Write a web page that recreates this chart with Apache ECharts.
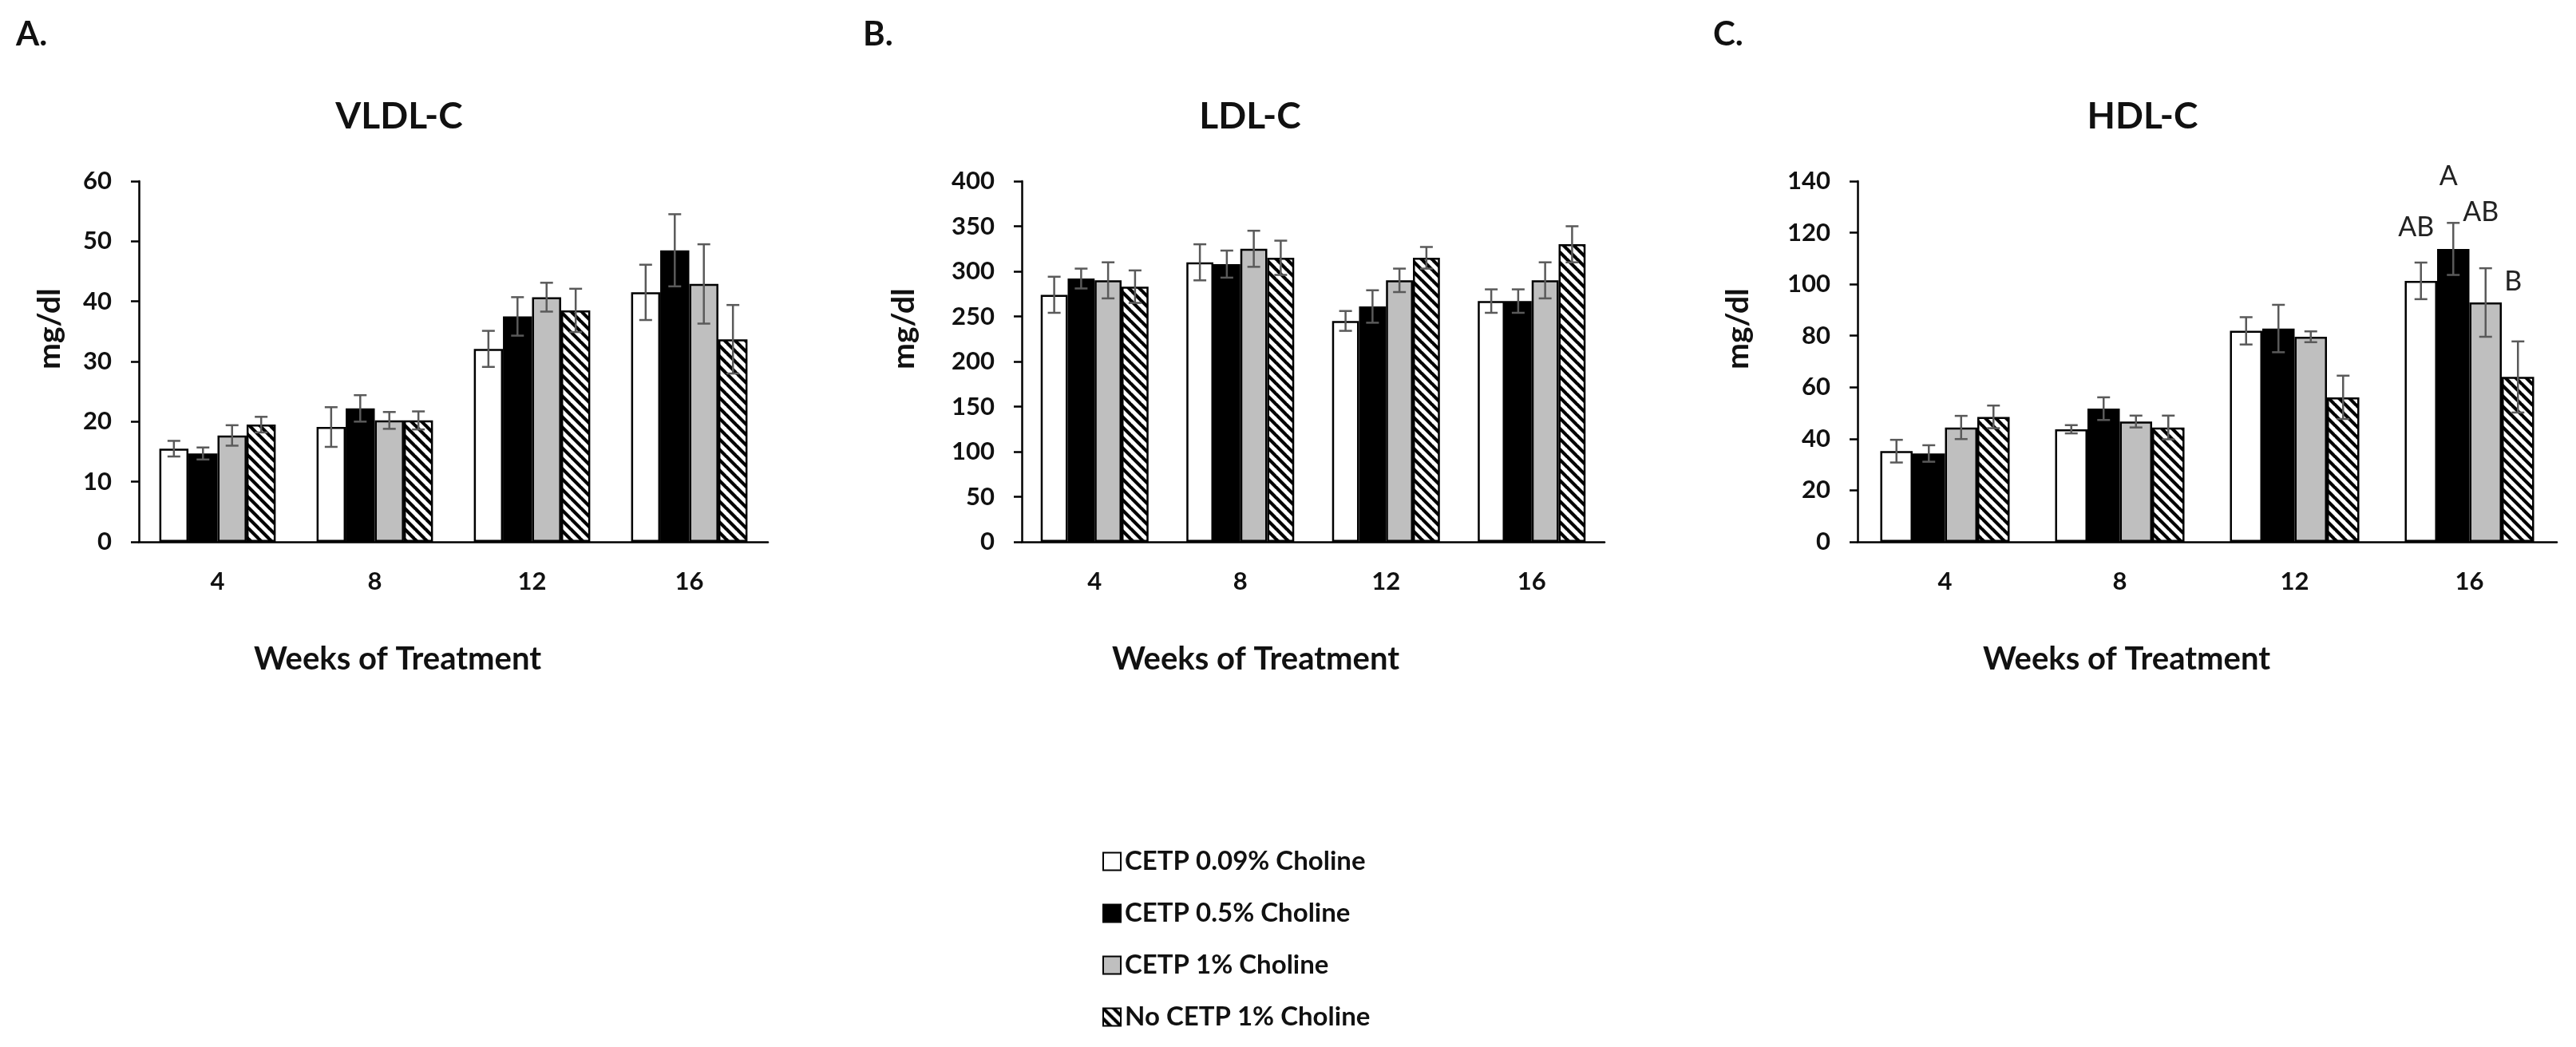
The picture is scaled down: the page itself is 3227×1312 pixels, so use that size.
<!DOCTYPE html>
<html><head><meta charset="utf-8">
<script src="https://cdn.jsdelivr.net/npm/echarts@6/dist/echarts.min.js"></script>
<style>html,body{margin:0;padding:0;background:#fff}#c{width:3227px;height:1312px}</style>
</head><body><div id="c"></div>
<script>
const weeks = ['4', '8', '12', '16'];
const seriesNames = ['CETP 0.09% Choline', 'CETP 0.5% Choline', 'CETP 1% Choline', 'No CETP 1% Choline'];

// VLDL-C (mg/dl)
const vldlWhite = [15.5, 19.1, 32.1, 41.5];
const vldlBlack = [14.7, 22.2, 37.5, 48.5];
const vldlGray  = [17.7, 20.2, 40.7, 42.9];
const vldlHatch = [19.5, 20.2, 38.5, 33.7];
const vldlWhiteErr = [1.3, 3.3, 3.0, 4.6];
const vldlBlackErr = [1.0, 2.2, 3.2, 6.0];
const vldlGrayErr  = [1.7, 1.4, 2.4, 6.6];
const vldlHatchErr = [1.3, 1.5, 3.6, 5.7];

// LDL-C (mg/dl)
const ldlWhite = [274, 310, 245, 267];
const ldlBlack = [292, 308, 261, 267];
const ldlGray  = [290, 325, 290, 290];
const ldlHatch = [283, 315, 315, 330];
const ldlWhiteErr = [20, 20, 11, 13];
const ldlBlackErr = [11, 15, 18, 13];
const ldlGrayErr  = [20, 20, 13, 20];
const ldlHatchErr = [18, 19, 12, 20];

// HDL-C (mg/dl)
const hdlWhite = [35.2, 43.7, 81.9, 101.3];
const hdlBlack = [34.3, 51.7, 82.8, 113.7];
const hdlGray  = [44.4, 46.7, 79.6, 92.9];
const hdlHatch = [48.5, 44.4, 56.1, 64.0];
const hdlWhiteErr = [4.4, 1.6, 5.3, 7.1];
const hdlBlackErr = [3.2, 4.4, 9.2, 10.1];
const hdlGrayErr  = [4.5, 2.3, 2.1, 13.3];
const hdlHatchErr = [4.4, 4.6, 8.4, 13.8];

// significance letters at week 16 (HDL-C), one per group, with the level they sit at
const hdlLetters = ['AB', 'A', 'AB', 'B'];
const hdlLetterLevel = [122, 142, 128, 101];

// y-axis ticks
const vldlTicks = {min: 0, max: 60, interval: 10};
const ldlTicks = {min: 0, max: 400, interval: 50};
const hdlTicks = {min: 0, max: 140, interval: 20};

const FONT = 'Lato';
const GAP = 0.26;

function hatchPattern() {
  const s = 13;
  const c = document.createElement('canvas');
  c.width = s; c.height = s;
  const g = c.getContext('2d');
  g.fillStyle = '#fff'; g.fillRect(0, 0, s, s);
  g.strokeStyle = '#000'; g.lineWidth = 4.2;
  g.beginPath();
  for (let k = -1; k <= 1; k++) { g.moveTo(-1, k * s - 1); g.lineTo(s + 1, s + k * s + 1); }
  g.stroke();
  return {image: c, repeat: 'repeat'};
}
const fills = ['#ffffff', '#000000', '#bfbfbf', hatchPattern()];

// layout of the three panels (pixels)
const panels = [
  {title: 'VLDL-C', titleX: 500, tag: 'A.', tagX: 20, left: 174, width: 788, ticks: vldlTicks, nameGap: 92, xNameX: 498,
    means: [vldlWhite, vldlBlack, vldlGray, vldlHatch], errs: [vldlWhiteErr, vldlBlackErr, vldlGrayErr, vldlHatchErr]},
  {title: 'LDL-C', titleX: 1566, tag: 'B.', tagX: 1081, left: 1280, width: 730, ticks: ldlTicks, nameGap: 128, xNameX: 1573,
    means: [ldlWhite, ldlBlack, ldlGray, ldlHatch], errs: [ldlWhiteErr, ldlBlackErr, ldlGrayErr, ldlHatchErr]},
  {title: 'HDL-C', titleX: 2684, tag: 'C.', tagX: 2146, left: 2327, width: 876, ticks: hdlTicks, nameGap: 130, xNameX: 2664,
    means: [hdlWhite, hdlBlack, hdlGray, hdlHatch], errs: [hdlWhiteErr, hdlBlackErr, hdlGrayErr, hdlHatchErr]}
];
const PLOT_TOP = 227, PLOT_H = 452, Y_NAME_CENTER = 412;

const grid = [], xAxis = [], yAxis = [], series = [], title = [];
panels.forEach((p, pi) => {
  grid.push({left: p.left, top: PLOT_TOP, width: p.width, height: PLOT_H});
  title.push({text: p.title, left: p.titleX, top: 123, textAlign: 'center', padding: 0,
    textStyle: {fontFamily: FONT, fontSize: 46, fontWeight: 'bold', color: '#111'}});
  title.push({text: p.tag, left: p.tagX, top: 22, padding: 0,
    textStyle: {fontFamily: FONT, fontSize: 42, fontWeight: 'bold', color: '#111'}});
  const xShift = (p.left + p.width / 2) - p.xNameX;
  const yShift = (PLOT_TOP + PLOT_H / 2) - Y_NAME_CENTER;
  xAxis.push({type: 'category', gridIndex: pi, data: weeks,
    axisLine: {lineStyle: {color: '#000', width: 2.5}}, axisTick: {show: false},
    axisLabel: {fontFamily: FONT, fontSize: 31, fontWeight: 'bold', color: '#111', margin: 34},
    name: 'Weeks of Treatment', nameLocation: 'middle', nameGap: 127,
    nameTextStyle: {fontFamily: FONT, fontSize: 40, fontWeight: 'bold', color: '#111', padding: [0, 2 * xShift, 0, 0]}});
  yAxis.push({type: 'value', gridIndex: pi, min: p.ticks.min, max: p.ticks.max, interval: p.ticks.interval,
    axisLine: {show: true, lineStyle: {color: '#000', width: 2.5}},
    axisTick: {show: true, length: 10, lineStyle: {color: '#000', width: 2.5}},
    splitLine: {show: false},
    axisLabel: {fontFamily: FONT, fontSize: 31, fontWeight: 'bold', color: '#111', margin: 34},
    name: 'mg/dl', nameLocation: 'middle', nameGap: p.nameGap,
    nameTextStyle: {fontFamily: FONT, fontSize: 39, fontWeight: 'bold', color: '#111', padding: [0, 0, 0, 2 * yShift]}});
  p.means.forEach((m, si) => {
    series.push({type: 'bar', name: seriesNames[si], xAxisIndex: pi, yAxisIndex: pi, data: m,
      barGap: '0%', barCategoryGap: (GAP * 100) + '%',
      itemStyle: {color: fills[si], borderColor: '#000', borderWidth: 2.5}, silent: true});
  });
  p.means.forEach((m, si) => {
    const errs = p.errs[si];
    series.push({type: 'custom', name: 'err', xAxisIndex: pi, yAxisIndex: pi, z: 5, silent: true,
      data: m.map((v, i) => [i, v, errs[i]]), encode: {x: 0, y: 1},
      renderItem: (params, api) => {
        const c = api.value(0), v = api.value(1), e = api.value(2);
        const band = api.size([1, 0])[0];
        const bw = band * (1 - GAP) / 4;
        const x = api.coord([c, v])[0] + (si - 1.5) * bw;
        const yT = api.coord([c, v + e])[1], yB = api.coord([c, v - e])[1];
        const cap = 8, st = {stroke: '#5a5a5a', lineWidth: 2.5};
        return {type: 'group', children: [
          {type: 'line', shape: {x1: x, y1: yT, x2: x, y2: yB}, style: st},
          {type: 'line', shape: {x1: x - cap, y1: yT, x2: x + cap, y2: yT}, style: st},
          {type: 'line', shape: {x1: x - cap, y1: yB, x2: x + cap, y2: yB}, style: st}
        ]};
      }});
  });
});

// significance letters on HDL-C week 16
series.push({type: 'custom', name: 'letters', xAxisIndex: 2, yAxisIndex: 2, z: 6, silent: true, clip: false,
  data: hdlLetters.map((t, i) => [weeks.length - 1, hdlLetterLevel[i], i]), encode: {x: 0, y: 1},
  renderItem: (params, api) => {
    const c = api.value(0), lv = api.value(1), si = api.value(2);
    const band = api.size([1, 0])[0];
    const bw = band * (1 - GAP) / 4;
    const pt = api.coord([c, lv]);
    return {type: 'text', x: pt[0] + (si - 1.5) * bw - 6, y: pt[1],
      style: {text: hdlLetters[si], font: '34px ' + FONT, fill: '#222', align: 'center', verticalAlign: 'middle',
        textAlign: 'center', textVerticalAlign: 'middle'}};
  }});

const chart = echarts.init(document.getElementById('c'), null, {renderer: 'canvas'});
chart.setOption({
  animation: false,
  backgroundColor: '#fff',
  textStyle: {fontFamily: FONT},
  title, grid, xAxis, yAxis, series,
  legend: {data: seriesNames, orient: 'vertical', left: 1381, top: 1063, padding: 0,
    itemWidth: 22, itemHeight: 22, itemGap: 32, itemTextGap: 8, icon: 'rect', selectedMode: false,
    itemStyle: {borderColor: '#000', borderWidth: 2},
    textStyle: {fontFamily: FONT, fontSize: 33, fontWeight: 'bold', color: '#111', padding: [0, 0, 0, 0]}}
});
</script></body></html>
